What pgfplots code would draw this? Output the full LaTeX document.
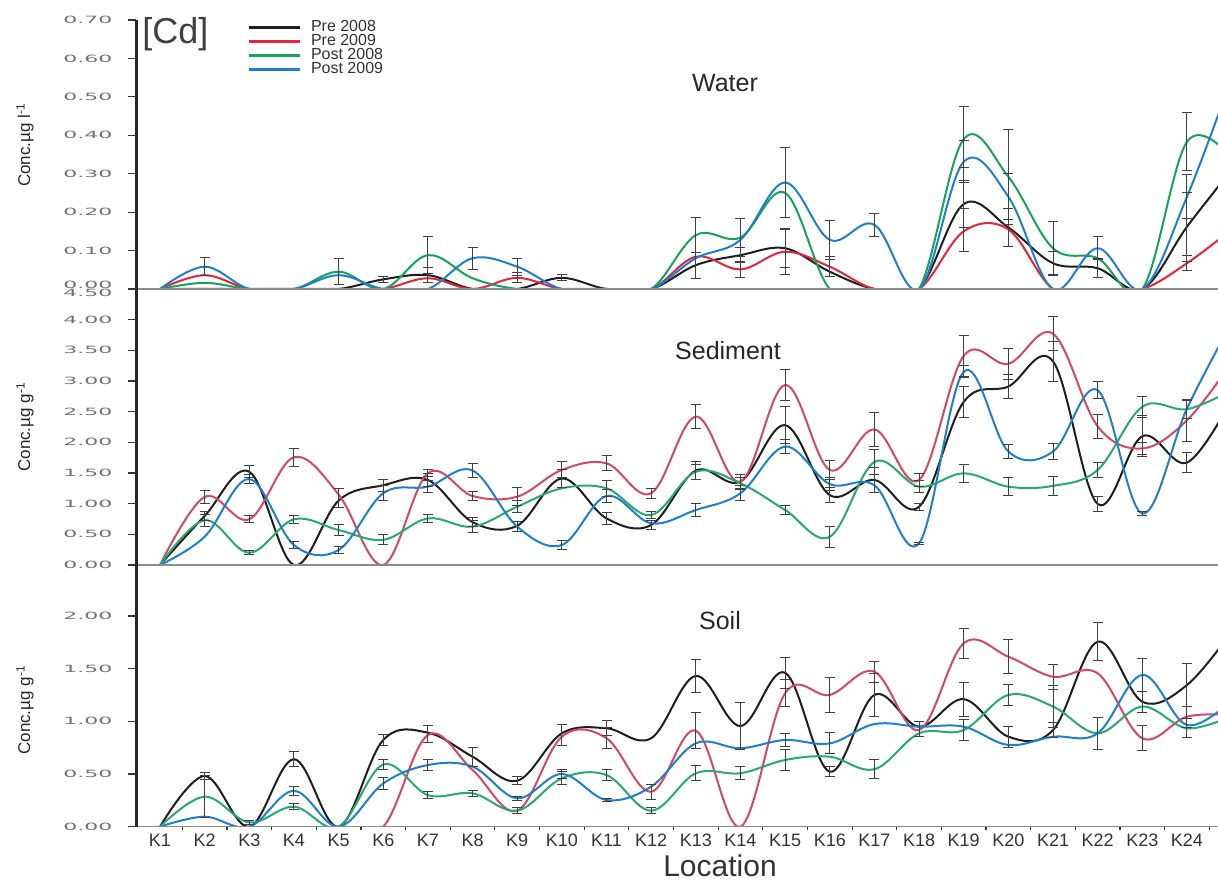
\documentclass[border=0pt]{standalone}
\usepackage{pgfplots}
\pgfplotsset{compat=1.18}
\usepackage{fontspec}
\setmainfont{Liberation Sans}
\newfontfamily\tickfont{DejaVu Sans}
\definecolor{cBlack}{RGB}{30,30,30}
\definecolor{cRed}{RGB}{228,38,58}
\definecolor{cGreen}{RGB}{25,162,90}
\definecolor{cBlue}{RGB}{30,128,205}
\definecolor{cRedB}{RGB}{212,72,100}
\definecolor{cGreenB}{RGB}{40,170,110}

\pgfplotsset{
 panel/.style={
  scale only axis, width=541pt, xmin=0.4625, xmax=24.695,
  axis lines*=left, axis on top,
  y axis line style={black!85, line width=1.5pt},
  x axis line style={black!45, line width=0.8pt},
  tick align=outside, major tick length=4pt,
  ytick style={black!80, line width=0.6pt},
  xtick=\empty,
  scaled y ticks=false,
  yticklabel style={font=\tickfont\fontsize{5}{6}\selectfont, text=black!55, xscale=2.2, anchor=east,
    /pgf/number format/fixed, /pgf/number format/fixed zerofill, /pgf/number format/precision=2,
    /pgf/number format/assume math mode=true},
  every axis plot/.append style={smooth, tension=0.6, line width=1pt},
 },
 errs/.style={draw=none, forget plot, error bars/.cd, y dir=both, y explicit,
   error bar style={draw=black!75, line width=0.5pt, solid},
   error mark options={rotate=90, draw=black!75, mark size=2.5pt, line width=0.5pt}},
}

\begin{document}
\begin{tikzpicture}
% ---------------- WATER ----------------
\begin{axis}[panel, at={(68pt,296pt)}, anchor=south west, height=134.5pt,
  ymin=0, ymax=0.7, ytick={0.1,0.2,...,0.7},
  extra y ticks={0}, extra y tick style={yticklabel style={yshift=2pt}},
  legend style={at={(axis description cs:0.1026,1.0)}, anchor=north west, draw=none, fill=none,
    font=\fontsize{8}{9}\selectfont, text=black!80, inner sep=0pt,
    nodes={inner sep=0pt, text height=5.4pt, text depth=1.6pt, anchor=west}, row sep=0pt},
  legend cell align=left,
  legend image code/.code={\draw[#1, line width=1.6pt] (0pt,0pt) -- (25.5pt,0pt); \path (30.5pt,0pt);}]
\addplot[cBlack] coordinates {(1,0)(2,0)(3,0)(4,0)(5,0)(6,0.025)(7,0.036)(8,0)(9,0)(10,0.029)(11,0)(12,0)(13,0.062)(14,0.088)(15,0.106)(16,0.045)(17,0)(18,0)(19,0.221)(20,0.16)(21,0.067)(22,0.054)(23,0)(24,0.162)(25,0.31)};
\addlegendentry{Pre 2008}
\addplot[cRed] coordinates {(1,0)(2,0.036)(3,0)(4,0)(5,0)(6,0)(7,0.028)(8,0)(9,0.029)(10,0)(11,0)(12,0)(13,0.084)(14,0.051)(15,0.097)(16,0.058)(17,0)(18,0)(19,0.15)(20,0.155)(21,0)(22,0)(23,0)(24,0.067)(25,0.155)};
\addlegendentry{Pre 2009}
\addplot[cGreen] coordinates {(1,0)(2,0.016)(3,0)(4,0)(5,0.045)(6,0)(7,0.088)(8,0.028)(9,0)(10,0)(11,0)(12,0)(13,0.14)(14,0.134)(15,0.25)(16,0)(17,0)(18,0)(19,0.39)(20,0.292)(21,0.106)(22,0.08)(23,0)(24,0.383)(25,0.34)};
\addlegendentry{Post 2008}
\addplot[cBlue] coordinates {(1,0)(2,0.058)(3,0)(4,0)(5,0.036)(6,0)(7,0)(8,0.08)(9,0.058)(10,0)(11,0)(12,0)(13,0.08)(14,0.128)(15,0.277)(16,0.128)(17,0.167)(18,0)(19,0.331)(20,0.24)(21,0)(22,0.106)(23,0)(24,0.24)(25,0.55)};
\addlegendentry{Post 2009}
\addplot[errs] table[x=x, y=y, y error=e] {
x y e
2 0.058 0.023
5 0.045 0.034
6 0.025 0.008
7 0.088 0.048
7 0.036 0.02
8 0.08 0.029
9 0.058 0.022
9 0.029 0.013
10 0.029 0.008
13 0.14 0.045
13 0.062 0.034
14 0.134 0.05
14 0.088 0.02
14 0.051 0.02
15 0.277 0.09
15 0.106 0.05
15 0.097 0.06
16 0.128 0.05
16 0.058 0.026
17 0.167 0.03
19 0.396 0.08
19 0.331 0.055
19 0.221 0.062
19 0.153 0.056
20 0.292 0.124
20 0.24 0.06
20 0.16 0.05
21 0.106 0.07
21 0.067 0.03
22 0.106 0.03
22 0.054 0.025
24 0.383 0.075
24 0.24 0.057
24 0.162 0.09
24 0.067 0.02
};
\end{axis}
% ---------------- SEDIMENT ----------------
\begin{axis}[panel, at={(68pt,158pt)}, anchor=south west, height=138pt,
  ymin=0, ymax=4.5, ytick={0,0.5,...,4.0},
  extra y ticks={4.5}, extra y tick style={yticklabel style={yshift=-2pt}}]
\addplot[cBlack] coordinates {(1,0)(2,0.8)(3,1.52)(4,0)(5,1.05)(6,1.30)(7,1.386)(8,0.7)(9,0.64)(10,1.41)(11,0.76)(12,0.652)(13,1.54)(14,1.36)(15,2.28)(16,1.14)(17,1.386)(18,0.95)(19,2.66)(20,2.91)(21,3.32)(22,0.995)(23,2.10)(24,1.67)(25,2.7)};
\addplot[cRedB] coordinates {(1,0)(2,1.11)(3,0.745)(4,1.756)(5,1.15)(6,0)(7,1.495)(8,1.125)(9,1.114)(10,1.55)(11,1.658)(12,1.17)(13,2.42)(14,1.36)(15,2.935)(16,1.55)(17,2.21)(18,1.386)(19,3.41)(20,3.28)(21,3.77)(22,2.26)(23,1.90)(24,2.36)(25,3.3)};
\addplot[cGreenB] coordinates {(1,0)(2,0.73)(3,0.2)(4,0.745)(5,0.57)(6,0.41)(7,0.76)(8,0.625)(9,0.95)(10,1.25)(11,1.25)(12,0.815)(13,1.52)(14,1.33)(15,0.897)(16,0.46)(17,1.68)(18,1.277)(19,1.495)(20,1.277)(21,1.29)(22,1.55)(23,2.58)(24,2.54)(25,2.85)};
\addplot[cBlue] coordinates {(1,0)(2,0.46)(3,1.40)(4,0.326)(5,0.245)(6,1.17)(7,1.277)(8,1.54)(9,0.625)(10,0.326)(11,1.125)(12,0.68)(13,0.897)(14,1.17)(15,1.93)(16,1.32)(17,1.30)(18,0.354)(19,3.15)(20,1.85)(21,1.85)(22,2.85)(23,0.84)(24,2.55)(25,3.95)};
\addplot[errs] table[x=x, y=y, y error=e] {
x y e
2 1.11 0.1
2 0.8 0.07
2 0.73 0.1
3 1.52 0.1
3 1.40 0.07
3 0.745 0.06
3 0.2 0.03
4 1.756 0.15
4 0.745 0.07
4 0.326 0.06
5 1.09 0.15
5 0.57 0.09
5 0.245 0.05
6 1.30 0.1
6 1.17 0.12
6 0.41 0.08
7 1.495 0.06
7 1.386 0.1
7 1.277 0.1
7 0.76 0.06
8 1.54 0.12
8 1.125 0.08
8 0.7 0.08
8 0.625 0.1
9 1.114 0.15
9 0.95 0.1
9 0.625 0.08
10 1.55 0.13
10 1.41 0.15
10 0.326 0.08
11 1.658 0.12
11 1.25 0.13
11 1.125 0.1
11 0.76 0.1
12 1.17 0.08
12 0.815 0.06
12 0.652 0.08
13 2.42 0.2
13 1.54 0.15
13 1.52 0.12
13 0.897 0.1
14 1.36 0.12
14 1.33 0.1
14 1.17 0.12
15 2.935 0.26
15 2.28 0.3
15 1.93 0.12
15 0.897 0.08
16 1.55 0.15
16 1.32 0.1
16 1.14 0.12
16 0.46 0.17
17 2.21 0.28
17 1.68 0.2
17 1.386 0.2
18 1.386 0.1
18 1.277 0.1
18 0.95 0.06
18 0.354 0.02
19 3.41 0.33
19 3.15 0.1
19 2.66 0.25
19 1.495 0.15
20 3.28 0.25
20 2.91 0.2
20 1.85 0.12
20 1.277 0.15
21 3.77 0.28
21 3.32 0.33
21 1.85 0.13
21 1.29 0.15
22 2.85 0.14
22 2.26 0.19
22 1.55 0.12
22 0.995 0.12
23 2.58 0.17
23 2.10 0.33
23 1.90 0.1
23 0.84 0.03
24 2.54 0.15
24 2.36 0.34
24 1.67 0.16
};
\end{axis}
% ---------------- SOIL ----------------
\begin{axis}[panel, at={(68pt,27.15pt)}, anchor=south west, height=130.85pt,
  ymin=0, ymax=2.483, ytick={0,0.5,...,2.0},
  xtick={1,...,25},
  xticklabels={K1,K2,K3,K4,K5,K6,K7,K8,K9,K10,K11,K12,K13,K14,K15,K16,K17,K18,K19,K20,K21,K22,K23,K24,K25},
  xtick style={draw=none},
  xticklabel style={font=\fontsize{9}{10}\selectfont, text=black!80, yshift=4pt},
  extra x ticks={1.5,2.5,...,24.5},
  extra x tick style={xticklabel={}, major tick length=1.5pt, xtick style={draw=black!80, line width=0.6pt}}]
\addplot[cBlack] coordinates {(1,0)(2,0.481)(3,0)(4,0.64)(5,0)(6,0.823)(7,0.892)(8,0.664)(9,0.436)(10,0.886)(11,0.934)(12,0.839)(13,1.43)(14,0.955)(15,1.46)(16,0.522)(17,1.25)(18,0.949)(19,1.21)(20,0.854)(21,0.917)(22,1.755)(23,1.186)(24,1.344)(25,1.85)};
\addplot[cRedB] coordinates {(5,0)(6,0)(7,0.87)(8,0.538)(9,0.152)(10,0.854)(11,0.839)(12,0.332)(13,0.911)(14,0)(15,1.266)(16,1.25)(17,1.47)(18,0.917)(19,1.74)(20,1.613)(21,1.423)(22,1.455)(23,0.839)(24,1.044)(25,1.06)};
\addplot[cGreenB] coordinates {(1,0)(2,0.285)(3,0.04)(4,0.19)(5,0)(6,0.59)(7,0.30)(8,0.317)(9,0.152)(10,0.459)(11,0.49)(12,0.152)(13,0.507)(14,0.507)(15,0.633)(16,0.664)(17,0.545)(18,0.886)(19,0.917)(20,1.25)(21,1.14)(22,0.886)(23,1.14)(24,0.934)(25,1.05)};
\addplot[cBlue] coordinates {(1,0)(2,0.095)(3,0)(4,0.34)(5,0)(6,0.41)(7,0.585)(8,0.57)(9,0.27)(10,0.50)(11,0.253)(12,0.38)(13,0.791)(14,0.744)(15,0.823)(16,0.79)(17,0.974)(18,0.949)(19,0.949)(20,0.775)(21,0.854)(22,0.886)(23,1.44)(24,0.965)(25,1.2)};
\addplot[errs] table[x=x, y=y, y error=e] {
x y e
2 0.481 0.03
2 0.285 0.2
3 0.04 0.02
4 0.64 0.07
4 0.34 0.04
4 0.19 0.03
6 0.823 0.05
6 0.59 0.05
6 0.41 0.06
7 0.88 0.08
7 0.585 0.05
7 0.30 0.03
8 0.664 0.09
8 0.317 0.03
9 0.436 0.04
9 0.27 0.02
9 0.152 0.03
10 0.87 0.1
10 0.50 0.04
10 0.459 0.06
11 0.934 0.07
11 0.839 0.1
11 0.49 0.05
11 0.253 0.01
12 0.332 0.07
12 0.152 0.03
13 1.43 0.16
13 0.911 0.17
13 0.507 0.07
14 0.955 0.22
14 0.507 0.06
15 1.46 0.15
15 1.266 0.13
15 0.823 0.06
15 0.633 0.1
16 1.25 0.17
16 0.79 0.1
16 0.522 0.05
17 1.47 0.1
17 1.25 0.2
17 0.545 0.09
18 0.93 0.07
19 1.74 0.14
19 1.21 0.16
19 0.917 0.1
20 1.613 0.16
20 1.25 0.1
20 0.854 0.1
21 1.423 0.12
21 1.14 0.2
21 0.917 0.07
22 1.755 0.18
22 0.886 0.15
23 1.44 0.16
23 1.186 0.1
23 0.839 0.12
24 1.344 0.2
24 1.044 0.1
24 0.934 0.09
};
\end{axis}
% ---------------- texts ----------------
\node[font=\fontsize{12.5}{14}\selectfont, text=black!85] at (362.5pt,399pt) {Water};
\node[font=\fontsize{12.5}{14}\selectfont, text=black!85] at (364pt,265pt) {Sediment};
\node[font=\fontsize{12.5}{14}\selectfont, text=black!85] at (360pt,130pt) {Soil};
\node[font=\fontsize{18}{20}\selectfont, text=black!75, anchor=west, inner sep=0pt] at (71pt,423.5pt) {[Cd]};
\node[font=\fontsize{15}{17}\selectfont, text=black!80] at (360pt,7.5pt) {Location};
\node[rotate=90, font=\fontsize{8.5}{10}\selectfont, text=black!85] at (12.5pt,368pt) {Conc.µg l\textsuperscript{-1}};
\node[rotate=90, font=\fontsize{8.5}{10}\selectfont, text=black!85] at (12.5pt,227pt) {Conc.µg g\textsuperscript{-1}};
\node[rotate=90, font=\fontsize{8.5}{10}\selectfont, text=black!85] at (12.5pt,85.5pt) {Conc.µg g\textsuperscript{-1}};
\pgfresetboundingbox
\useasboundingbox (0,0) rectangle (609pt,440.5pt);
\end{tikzpicture}
\end{document}
